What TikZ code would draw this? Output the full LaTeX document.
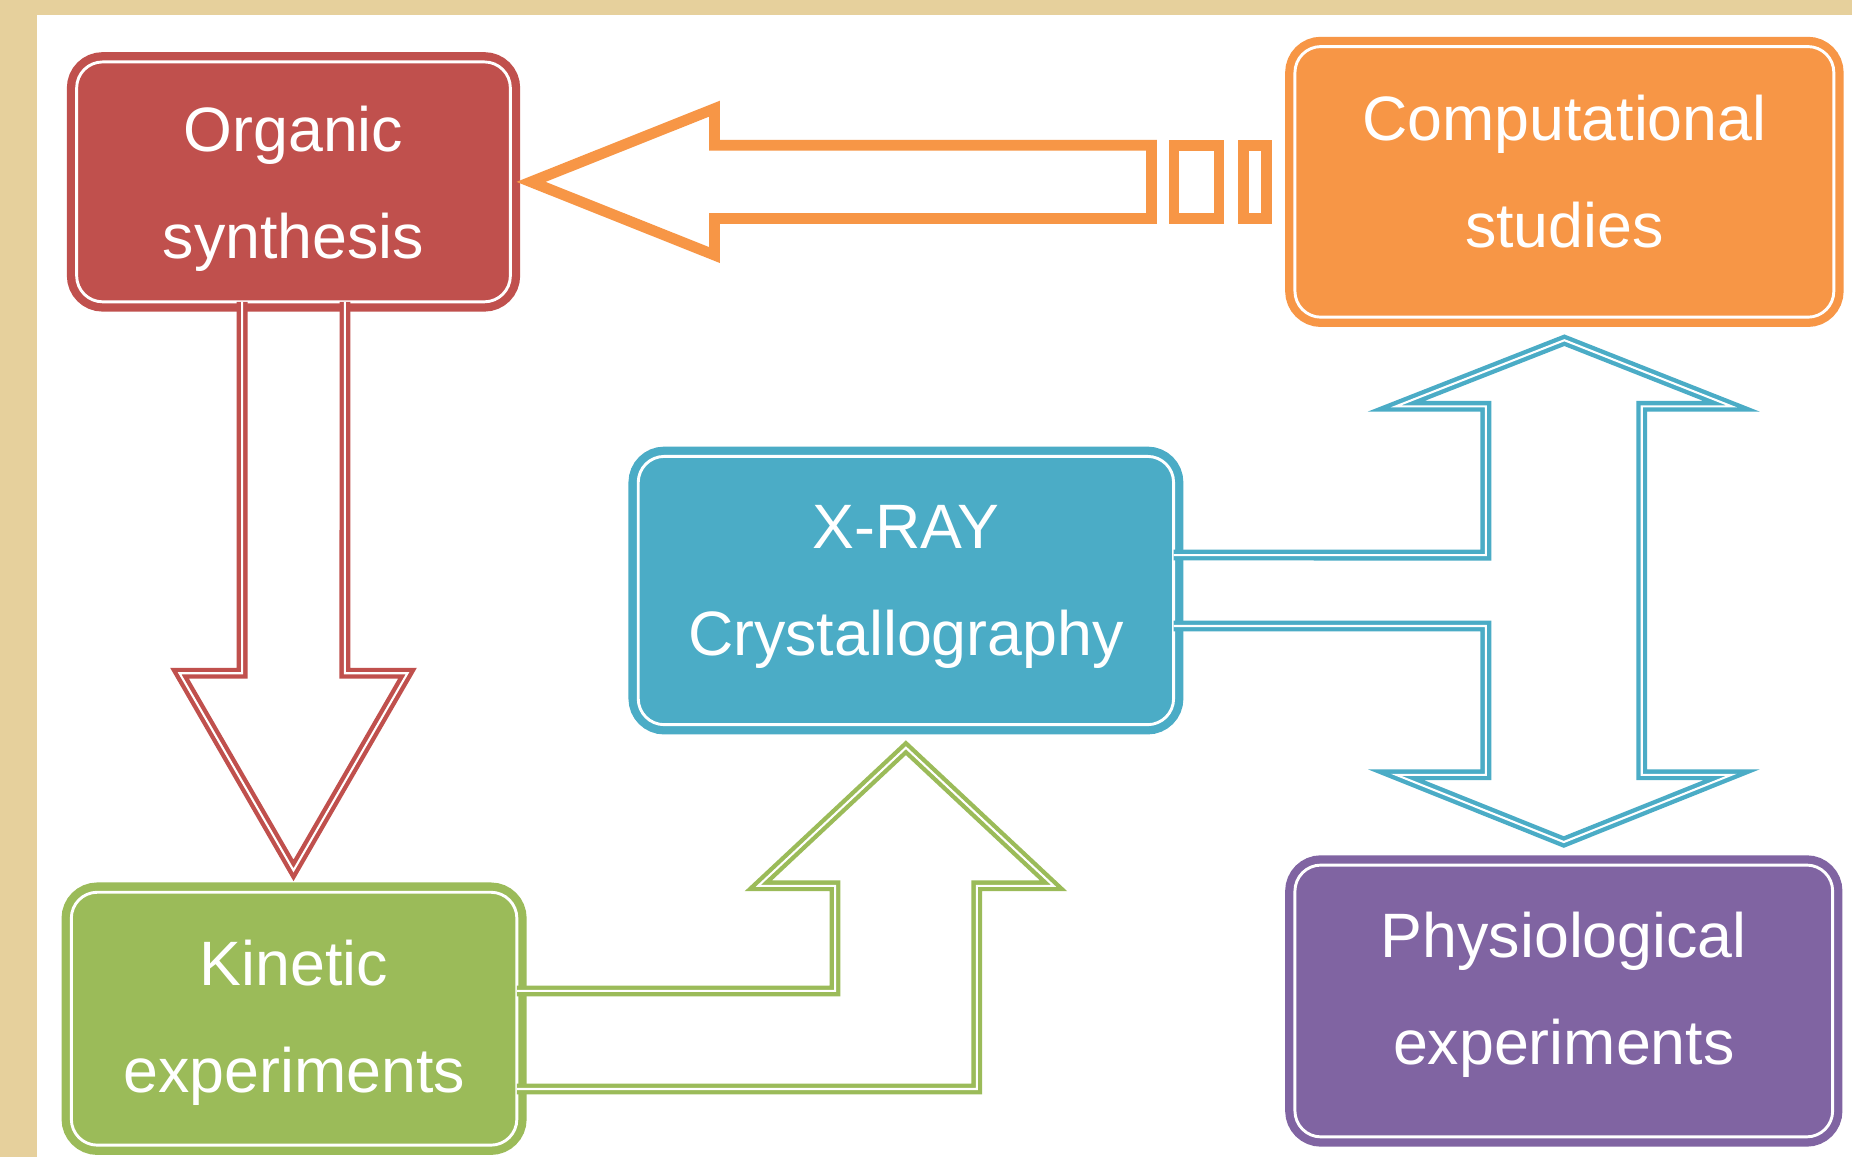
\documentclass[tikz,border=0pt]{standalone}
\usepackage{fontspec}
\setmainfont{Liberation Sans}
\definecolor{cRed}{HTML}{C0504D}
\definecolor{cOrange}{HTML}{F79646}
\definecolor{cBlue}{HTML}{4BACC6}
\definecolor{cGreen}{HTML}{9BBB59}
\definecolor{cPurple}{HTML}{8064A2}
\definecolor{cBeige}{HTML}{E6D09C}
\tikzset{
  box/.style={draw=#1, fill=#1, rounded corners=0.22cm, line width=2pt,
    double=white, double distance=0.7pt, inner sep=0pt, outer sep=0pt},
  txt/.style={text=white, font=\fontsize{15.1}{25.8}\selectfont, align=center, inner sep=0pt},
  dblarrow/.style={draw=#1, line width=1.05pt, double=white, double distance=0.5pt, line join=miter},
  solidarrow/.style={draw=#1, line width=2.6pt, line join=miter}
}
\begin{document}
\begin{tikzpicture}[x=0.01cm,y=-0.01cm]
\useasboundingbox (0,0) rectangle (1568,980);
\fill[cBeige] (0,0) rectangle (1568,980);
\fill[white] (31,12.5) rectangle (1568,980);

% boxes
\node[box=cRed, minimum width=3.67cm, minimum height=2.03cm] (org) at (248.5,154) {};
\node[box=cOrange, minimum width=4.56cm, minimum height=2.29cm] (comp) at (1324.5,154) {};
\node[box=cBlue, minimum width=4.53cm, minimum height=2.27cm] (xray) at (767,500) {};
\node[box=cGreen, minimum width=3.77cm, minimum height=2.14cm] (kin) at (249,862.5) {};
\node[box=cPurple, minimum width=4.55cm, minimum height=2.30cm] (phys) at (1324,847.5) {};

% texts
\node[txt] (orgT) at (248.5,160) {Organic\\synthesis};
\node[txt] (compT) at (1324.5,145) {Computational\\studies};
\node[txt] (xrayT) at (767,497) {X-RAY\\Crystallography};
\node[txt] (kinT) at (249,866) {Kinetic\\experiments};
\node[txt] (physT) at (1324,842) {Physiological\\experiments};

% orange arrow: computational -> organic
\coordinate (otip) at ([xshift=0.175cm]org.east);
\draw[solidarrow=cOrange] (otip) -- (605,92) -- (605,123) -- (975,123) -- (975,185)
  -- (605,185) -- (605,216) -- cycle;
\draw[solidarrow=cOrange] (994,123) rectangle (1032,185);
\draw[solidarrow=cOrange] (1053,123) rectangle (1072,185);

% red arrow: organic -> kinetic
\coordinate (rtip) at ([yshift=0.185cm]kin.north -| org.south);
\draw[dblarrow=cRed] ([xshift=-0.435cm]org.south) -- (205,570) -- (152,570) -- (rtip)
  -- (345,570) -- (292,570) -- ([xshift=0.435cm]org.south);

% green arrow: kinetic -> x-ray
\coordinate (gtip) at ([yshift=-0.195cm]xray.south);
\draw[dblarrow=cGreen] ([yshift=0.235cm]kin.east) -- (707,839) -- (707,750) -- (642,750)
  -- (gtip) -- (892,750) -- (827,750) -- (827,922) -- ([yshift=-0.595cm]kin.east);

% blue double arrow: x-ray <-> computational / physiological
\coordinate (btop) at ([yshift=-0.195cm]comp.south);
\coordinate (bbot) at ([yshift=0.195cm]phys.north);
\draw[dblarrow=cBlue] ([yshift=0.3cm]xray.east) -- (1258,470) -- (1258,344) -- (1182,344)
  -- (btop) -- (1466,344) -- (1390,344) -- (1390,656) -- (1466,656) -- (bbot)
  -- (1182,656) -- (1258,656) -- (1258,530) -- ([yshift=-0.3cm]xray.east);
\end{tikzpicture}
\end{document}
